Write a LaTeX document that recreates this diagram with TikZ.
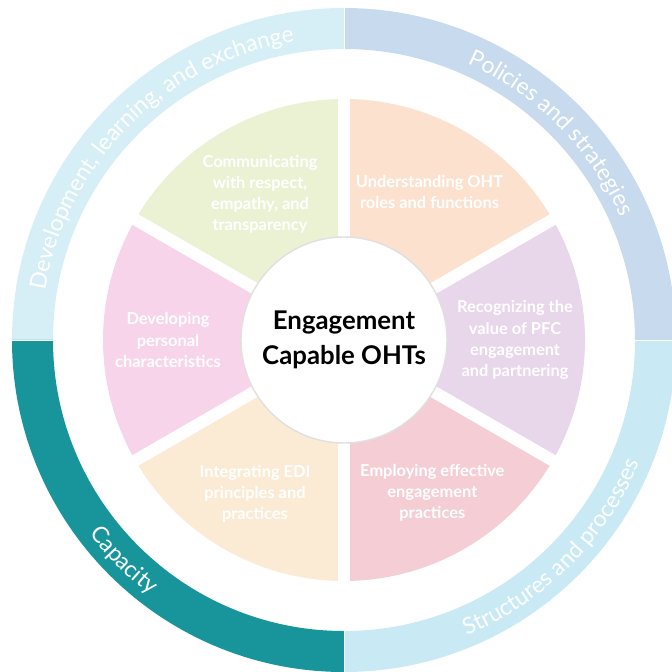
\documentclass[tikz,border=0pt]{standalone}
\usepackage{fontspec}
\setsansfont{Lato}
\RequirePackage{xcolor}
\tikzset{every picture/.style={/utils/exec={\sffamily}}}
\usetikzlibrary{decorations.text}

\definecolor{ringdev}{HTML}{D6EEF5}
\definecolor{ringpol}{HTML}{C7DAEE}
\definecolor{ringstr}{HTML}{C9EAF5}
\definecolor{ringcap}{HTML}{18949B}
\definecolor{sectcomm}{HTML}{EBF2D4}
\definecolor{sectoht}{HTML}{FCE1CF}
\definecolor{sectpfc}{HTML}{E8D6EA}
\definecolor{sectemp}{HTML}{F5CED5}
\definecolor{sectedi}{HTML}{FBEBD4}
\definecolor{sectpers}{HTML}{F8D4EA}

\newcommand{\ringfont}{\fontsize{19.5}{22}\selectfont}

\begin{document}
\begin{tikzpicture}
  \useasboundingbox (-10.32,-9.96) rectangle (9.84,10.2);
  \tikzset{
    sectlabel/.style={align=center, text=white, font=\bfseries\fontsize{14}{18}\selectfont},
    ringlabel/.style={decorate, decoration={text along path, text align=center, text color=white, text={|\ringfont|#1}}}
  }

  % outer ring
  \foreach \a/\c in {90/ringdev, 0/ringpol, 270/ringstr, 180/ringcap}
    \fill [\c] (\a:9.96) arc [start angle=\a, end angle=\a+90, radius=9.96] -- (\a+90:8.73) arc [start angle=\a+90, end angle=\a, radius=8.73] -- cycle;
  \foreach \a in {0,90,180,270}
    \draw [white, line width=0.4pt] (\a:8.7) -- (\a:10);

  \path [ringlabel={Development, learning, and exchange}] (180:9.08) arc [start angle=180, end angle=90, radius=9.08];
  \path [ringlabel={Policies and strategies}] (90:9.08) arc [start angle=90, end angle=0, radius=9.08];
  \path [ringlabel={Structures and processes}] (270:9.6) arc [start angle=270, end angle=360, radius=9.6];
  \path [ringlabel={Capacity}] (180:9.6) arc [start angle=180, end angle=270, radius=9.6];

  % sectors
  \foreach \a/\c in {90/sectcomm, 30/sectoht, -30/sectpfc, -90/sectemp, 210/sectedi, 150/sectpers}
    \fill [\c] (0,0) -- (\a:7.23) arc [start angle=\a, end angle=\a+60, radius=7.23] -- cycle;
  \foreach \a in {30,90,...,330}
    \draw [white, line width=0.36cm] (0,0) -- (\a:7.6);

  \node [circle, fill=white, draw=black!12, line width=1.2pt, minimum size=6.18cm] (hub) at (0,0) {};
  \node [align=center, font=\bfseries\fontsize{22}{30}\selectfont] (core) at (hub) {Engagement\\Capable OHTs};

  \node [sectlabel] (comm) at (120:5.04) {Communicating\\with respect,\\empathy, and\\transparency};
  \node [sectlabel] (roles) at (60:5.13) {Understanding OHT\\roles and functions};
  \node [sectlabel] (value) at (0:5.13) {Recognizing the\\value of PFC\\engagement\\and partnering};
  \node [sectlabel] (employ) at (-60:5.3) {Employing effective\\engagement\\practices};
  \node [sectlabel] (edi) at (-120:5.34) {Integrating EDI\\principles and\\practices};
  \node [sectlabel] (pers) at (180:5.28) {Developing\\personal\\characteristics};

\end{tikzpicture}
\end{document}
